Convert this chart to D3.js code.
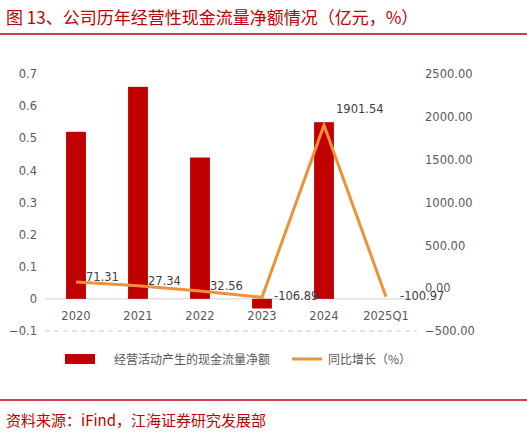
<!DOCTYPE html><html><head><meta charset="utf-8"><script src="https://cdn.jsdelivr.net/npm/d3@7"></script>
<style>body{margin:0;background:#fff}text{font-family:"Noto Sans CJK SC","DejaVu Sans",sans-serif}</style></head><body>
<svg id="c" width="527" height="437"></svg>
<script>
const categories=["2020","2021","2022","2023","2024","2025Q1"];
const flow=[0.52,0.66,0.44,-0.03,0.55,0];
const growth=[71.31,27.34,-32.56,-106.89,1901.54,-100.97];
const growthLabels=["71.31","27.34","32.56","-106.89","1901.54","-100.97"];
const leftTicks=[-0.1,0,0.1,0.2,0.3,0.4,0.5,0.6,0.7];
const rightTicks=[-500,0,500,1000,1500,2000,2500];
const svg=d3.select("#c");
const red="#c00000",orange="#f0913a";
svg.append("text").attr("x",6).attr("y",24).attr("fill",red).attr("font-size",17).text("图 13、公司历年经营性现金流量净额情况（亿元，%）");
svg.append("line").attr("x1",0).attr("x2",527).attr("y1",34).attr("y2",34).attr("stroke",red).attr("stroke-width",1.5);
svg.append("line").attr("x1",0).attr("x2",527).attr("y1",400).attr("y2",400).attr("stroke",red).attr("stroke-width",1.5);
svg.append("text").attr("x",6).attr("y",426).attr("fill",red).attr("font-size",15).text("资料来源：iFind，江海证券研究发展部");
const x=d3.scaleBand().domain(categories).range([45,417]).paddingInner(0.68).paddingOuter(0.34);
const yL=d3.scaleLinear().domain([-0.1,0.7]).range([331,74]);
const yR=d3.scaleLinear().domain([-500,2500]).range([331,74]);
svg.append("line").attr("x1",45).attr("x2",417).attr("y1",yL(-0.1)).attr("y2",yL(-0.1)).attr("stroke","#ccc").attr("stroke-dasharray","5,4");
svg.append("line").attr("x1",45).attr("x2",417).attr("y1",yL(0)).attr("y2",yL(0)).attr("stroke","#d0d0d0");
const gl=svg.append("g").attr("transform","translate(40,0)").call(d3.axisLeft(yL).tickValues(leftTicks).tickSize(0).tickFormat(d=>d===0?"0":d3.format(".1f")(d)));
const gr=svg.append("g").attr("transform","translate(422,0)").call(d3.axisRight(yR).tickValues(rightTicks).tickSize(0).tickFormat(d3.format(".2f")));
[gl,gr].forEach(g=>{g.select(".domain").remove();g.selectAll("text").attr("fill","#595959").attr("font-size",11.5).style("font-family","'DejaVu Sans',sans-serif");});
svg.selectAll("rect.b").data(flow).join("rect").attr("class","b").attr("x",(d,i)=>x(categories[i])).attr("width",x.bandwidth())
 .attr("y",d=>yL(Math.max(0,d))).attr("height",d=>Math.abs(yL(d)-yL(0))).attr("fill",red);
svg.selectAll("text.cat").data(categories).join("text").attr("class","cat").attr("x",d=>x(d)+x.bandwidth()/2).attr("y",320).attr("text-anchor","middle").attr("fill","#595959").attr("font-size",11.5).style("font-family","'DejaVu Sans',sans-serif").text(d=>d);
const line=d3.line().x((d,i)=>x(categories[i])+x.bandwidth()/2).y(d=>yR(d));
svg.append("path").datum(growth).attr("d",line).attr("fill","none").attr("stroke",orange).attr("stroke-width",3);
const off=[[10,-1],[10,-1],[10,-1],[12,3],[12,-12],[14,3]];
svg.selectAll("text.gl").data(growth).join("text").attr("class","gl").attr("x",(d,i)=>x(categories[i])+x.bandwidth()/2+off[i][0]).attr("y",(d,i)=>yR(d)+off[i][1])
 .attr("fill","#404040").attr("font-size",11.5).style("font-family","'DejaVu Sans',sans-serif").text((d,i)=>growthLabels[i]);
svg.append("rect").attr("x",65).attr("y",354).attr("width",30).attr("height",10).attr("fill",red);
svg.append("text").attr("x",114).attr("y",364).attr("fill","#595959").attr("font-size",12).text("经营活动产生的现金流量净额");
svg.append("line").attr("x1",292).attr("x2",322).attr("y1",359).attr("y2",359).attr("stroke",orange).attr("stroke-width",3);
svg.append("text").attr("x",328).attr("y",364).attr("fill","#595959").attr("font-size",12).text("同比增长（%）");
</script></body></html>
